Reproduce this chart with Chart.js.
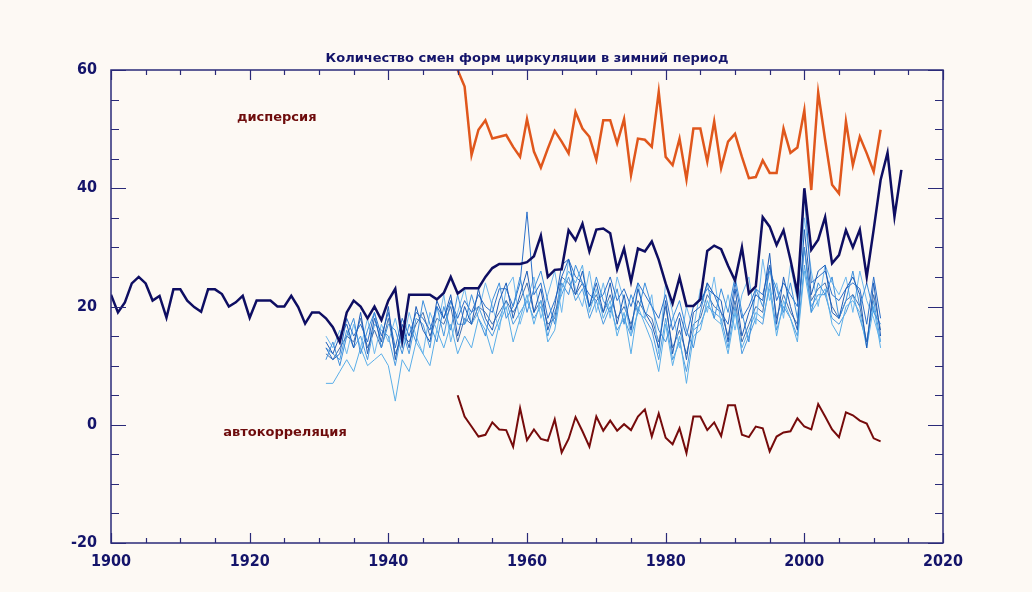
<!DOCTYPE html>
<html>
<head>
<meta charset="utf-8">
<script src="https://cdn.jsdelivr.net/npm/chart.js@4.4.0/dist/chart.umd.min.js"></script>
<style>
    html, body { margin: 0; padding: 0; background: #fdf9f4; }
    #wrap { width: 1032px; height: 592px; }
</style>
</head>
<body>
<div id="wrap"><canvas id="chart" width="1032" height="592"></canvas></div>
<script>
    // Количество смен форм циркуляции (зима), 1900-2014
    const mainStart = 1900;
    const mainSeries = [
        22, 19, 20.7, 23.9, 25, 23.9, 21, 21.8, 18.1, 22.9,
        22.9, 21, 19.9, 19.1, 22.9, 22.9, 22.1, 20, 20.7, 21.8,
        18.1, 21, 21, 21, 20, 20, 21.8, 19.9, 17.1, 19,
        19, 18, 16.5, 14, 19, 21, 20, 18, 20, 17.7,
        21, 23, 14.3, 22, 22, 22, 22, 21.2, 22.3, 25,
        22.2, 23.1, 23.1, 23.1, 25, 26.5, 27.2, 27.2, 27.2, 27.2,
        27.5, 28.5, 32, 25, 26.2, 26.3, 32.9, 31.2, 34, 29.3,
        33, 33.2, 32.4, 26.3, 29.8, 24.2, 29.8, 29.3, 31, 27.9,
        23.9, 20.5, 24.9, 20.1, 20.1, 21.2, 29.4, 30.3, 29.7, 26.9,
        24.4, 30, 22.2, 23.4, 35.1, 33.5, 30.4, 32.9, 27.9, 22.2,
        40, 29.6, 31.3, 35.1, 27.3, 28.7, 32.9, 30, 33, 25,
        33, 41.4, 46, 35.2, 43.1
    ];

    // дисперсия и автокорреляция, 1950-2011
    const statStart = 1950;
    const dispersion = [
        60, 57.2, 45.6, 49.9, 51.5, 48.4, 48.7, 49, 47, 45.3,
        51.7, 46.2, 43.5, 46.7, 49.7, 47.9, 45.9, 52.9, 50.1, 48.7,
        44.8, 51.5, 51.5, 47.6, 51.7, 42.2, 48.4, 48.2, 47, 56.3,
        45.3, 43.9, 48.4, 41.5, 50.1, 50.1, 44.5, 51.3, 43.4, 47.9,
        49.2, 45.3, 41.7, 41.9, 44.7, 42.6, 42.6, 50.1, 46, 46.9,
        53.2, 39.7, 56.2, 48.2, 40.6, 39.1, 51.3, 43.9, 48.7, 45.9,
        42.8, 49.9
    ];
    const autocorr = [
        5, 1.4, -0.3, -2, -1.7, 0.4, -0.8, -0.9, -3.7, 2.8,
        -2.6, -0.8, -2.4, -2.7, 0.9, -4.7, -2.4, 1.3, -1.1, -3.7,
        1.4, -1, 0.7, -1, 0.1, -0.9, 1.4, 2.6, -2, 1.9,
        -2.2, -3.3, -0.6, -4.8, 1.4, 1.4, -0.9, 0.4, -1.9, 3.3,
        3.3, -1.7, -2.1, -0.3, -0.6, -4.5, -2, -1.3, -1.1, 1.1,
        -0.3, -0.8, 3.5, 1.4, -0.8, -2.1, 2.1, 1.6, 0.7, 0.2,
        -2.3, -2.8
    ];

    // отдельные ряды, 1931-2011
    const thinStart = 1931;
    const thinA = [
        14, 12, 15, 17, 13, 19, 12, 18, 14, 20,
        11, 17, 13, 20, 16, 14, 21, 18, 22, 15,
        20, 17, 23, 18, 16, 21, 24, 18, 22, 26,
        19, 23, 16, 20, 27, 28, 22, 26, 20, 24,
        19, 24, 17, 22, 16, 23, 19, 17, 13, 21,
        12, 18, 11, 19, 20, 24, 22, 21, 14, 23,
        15, 19, 22, 21, 29, 17, 25, 20, 16, 33,
        22, 26, 27, 19, 18, 23, 25, 22, 13, 24,
        15
    ];
    const thinB = [
        11, 14, 10, 15, 18, 12, 16, 19, 13, 17,
        16, 12, 17, 14, 21, 17, 14, 20, 16, 22,
        17, 22, 18, 15, 21, 24, 18, 20, 25, 19,
        23, 26, 21, 17, 24, 22, 27, 24, 20, 25,
        21, 19, 23, 17, 22, 19, 24, 20, 16, 14,
        18, 21, 16, 13, 19, 24, 18, 23, 19, 25,
        19, 14, 23, 20, 26, 23, 19, 24, 18, 30,
        19, 24, 22, 25, 18, 21, 26, 20, 24, 19,
        17
    ];
    const thinC = [
        7, 7, 9, 11, 9, 13, 10, 11, 12, 10,
        4, 11, 9, 14, 12, 10, 16, 13, 17, 12,
        15, 13, 18, 16, 12, 17, 20, 14, 18, 22,
        17, 21, 14, 16, 23, 26, 24, 27, 19, 23,
        18, 21, 15, 19, 12, 20, 17, 14, 9, 17,
        10, 15, 7, 15, 16, 21, 18, 17, 12, 19,
        13, 16, 19, 18, 23, 15, 21, 18, 14, 26,
        19, 21, 23, 17, 15, 20, 21, 19, 13, 20,
        13
    ];
    const thinD = [
        13, 11, 12, 18, 15, 17, 14, 19, 15, 19,
        13, 18, 15, 19, 18, 16, 20, 18, 21, 18,
        21, 19, 22, 20, 19, 23, 23, 20, 24, 36,
        22, 24, 18, 21, 25, 28, 25, 24, 22, 21,
        22, 25, 21, 23, 20, 24, 22, 20, 18, 22,
        16, 19, 15, 20, 21, 23, 22, 19, 17, 24,
        18, 20, 23, 22, 27, 21, 24, 22, 20, 39,
        24, 25, 26, 22, 21, 23, 24, 23, 17, 25,
        18
    ];
    const thinE = [
        15, 13, 16, 12, 17, 13, 18, 12, 17, 14,
        18, 13, 19, 15, 12, 19, 16, 22, 14, 19,
        23, 17, 19, 24, 20, 16, 23, 25, 17, 21,
        25, 18, 22, 26, 19, 28, 23, 20, 26, 19,
        24, 18, 25, 21, 15, 24, 18, 22, 12, 24,
        19, 13, 20, 16, 23, 19, 25, 17, 22, 16,
        22, 25, 17, 28, 21, 24, 18, 27, 21, 35,
        26, 20, 27, 24, 22, 25, 19, 26, 21, 18,
        14
    ];
    const thinF = [
        12, 11, 13, 15, 14, 18, 13, 16, 13, 18,
        12, 15, 14, 17, 19, 15, 18, 17, 20, 14,
        18, 17, 20, 19, 17, 19, 21, 19, 21, 24,
        19, 21, 17, 18, 25, 24, 22, 24, 20, 22,
        19, 22, 18, 20, 17, 21, 19, 18, 14, 20,
        13, 16, 12, 17, 18, 22, 20, 19, 15, 21,
        14, 17, 20, 19, 27, 18, 22, 19, 17, 30,
        21, 23, 24, 20, 18, 21, 22, 20, 14, 22,
        16
    ];
    const thinG = [
        13, 12, 11, 16, 13, 15, 11, 17, 16, 15,
        10, 16, 12, 18, 17, 13, 20, 15, 21, 17,
        17, 19, 20, 17, 15, 18, 21, 17, 19, 21,
        18, 20, 15, 19, 22, 25, 21, 23, 18, 21,
        17, 20, 16, 18, 15, 19, 18, 16, 11, 18,
        11, 14, 9, 16, 17, 20, 19, 18, 13, 20,
        12, 15, 18, 17, 24, 16, 20, 18, 15, 27,
        20, 22, 22, 18, 17, 19, 22, 18, 14, 21,
        14
    ];

    const xTicks = [1900, 1920, 1940, 1960, 1980, 2000, 2020];
    const yTicks = [-20, 0, 20, 40, 60];

    const thinSets = [thinA, thinB, thinC, thinD, thinE, thinF, thinG];
    const thinColors = ['#1c5cb8', '#3d8fdc', '#5aaee8', '#2a6fc9', '#6fb8ee', '#3f6fb0', '#4a9ae0'];
    const axisColor = '#2a2a78';
    const labelColor = '#14146a';

    function toPoints(start, values) {
        return values.map((v, i) => ({ x: start + i, y: v }));
    }

    const datasets = thinSets.map((vals, i) => ({
        data: toPoints(thinStart, vals),
        borderColor: thinColors[i],
        borderWidth: 1,
        order: 3
    }));
    datasets.push({ data: toPoints(mainStart, mainSeries), borderColor: '#0e0e62', borderWidth: 2.5, order: 1 });
    datasets.push({ data: toPoints(statStart, dispersion), borderColor: '#e0571c', borderWidth: 2.5, order: 0 });
    datasets.push({ data: toPoints(statStart, autocorr), borderColor: '#760b0b', borderWidth: 2, order: 0 });

    // рамка, засечки внутрь и подписи
    const framePlugin = {
        id: 'frame',
        afterDatasetsDraw(chart) {
            const { ctx, chartArea: a, scales: { x, y } } = chart;
            ctx.save();
            ctx.strokeStyle = axisColor;
            ctx.lineWidth = 1.5;
            ctx.strokeRect(a.left, a.top, a.right - a.left, a.bottom - a.top);
            ctx.lineWidth = 1.2;
            ctx.beginPath();
            for (let yr = 1900; yr <= 2020; yr += 5) {
                const px = Math.round(x.getPixelForValue(yr)) + 0.5;
                const len = yr % 20 === 0 ? 10 : 5;
                ctx.moveTo(px, a.bottom); ctx.lineTo(px, a.bottom - len);
                ctx.moveTo(px, a.top); ctx.lineTo(px, a.top + len);
            }
            for (let v = -20; v <= 60; v += 5) {
                const py = Math.round(y.getPixelForValue(v)) + 0.5;
                const len = v % 20 === 0 ? 15 : 8;
                ctx.moveTo(a.left, py); ctx.lineTo(a.left + len, py);
                ctx.moveTo(a.right, py); ctx.lineTo(a.right - len, py);
            }
            ctx.stroke();

            ctx.font = 'bold 13px "DejaVu Sans"';
            ctx.textAlign = 'center';
            ctx.textBaseline = 'middle';
            ctx.fillStyle = labelColor;
            ctx.fillText('Количество смен форм циркуляции в зимний период', (a.left + a.right) / 2, a.top - 11);
            ctx.fillStyle = '#6e0c0c';
            ctx.fillText('дисперсия', x.getPixelForValue(1923.9), y.getPixelForValue(51.9));
            ctx.fillText('автокорреляция', x.getPixelForValue(1925.1), y.getPixelForValue(-1.4));
            ctx.restore();
        }
    };

    const tickFont = { family: '"Liberation Sans Narrow", "Arial Narrow", "DejaVu Sans Condensed", sans-serif', size: 16, weight: 'bold' };

    new Chart(document.getElementById('chart').getContext('2d'), {
        type: 'line',
        data: { datasets: datasets },
        options: {
            responsive: false,
            animation: false,
            layout: { padding: { top: 70, left: 0, right: 89, bottom: 19 } },
            elements: { point: { radius: 0 }, line: { tension: 0 } },
            plugins: { legend: { display: false }, tooltip: { enabled: false }, title: { display: false } },
            scales: {
                x: {
                    type: 'linear',
                    min: xTicks[0],
                    max: xTicks[xTicks.length - 1],
                    afterFit: s => { s.height = 30; },
                    afterBuildTicks: s => { s.ticks = xTicks.map(v => ({ value: v })); },
                    grid: { display: false },
                    border: { display: false },
                    ticks: { color: labelColor, font: tickFont, padding: 1, maxRotation: 0, callback: v => String(v) }
                },
                y: {
                    min: yTicks[0],
                    max: yTicks[yTicks.length - 1],
                    afterFit: s => { s.width = 111; },
                    afterBuildTicks: s => { s.ticks = yTicks.map(v => ({ value: v })); },
                    grid: { display: false },
                    border: { display: false },
                    ticks: { color: labelColor, font: tickFont, padding: 6, callback: v => String(v) }
                }
            }
        },
        plugins: [framePlugin]
    });
</script>
</body>
</html>
